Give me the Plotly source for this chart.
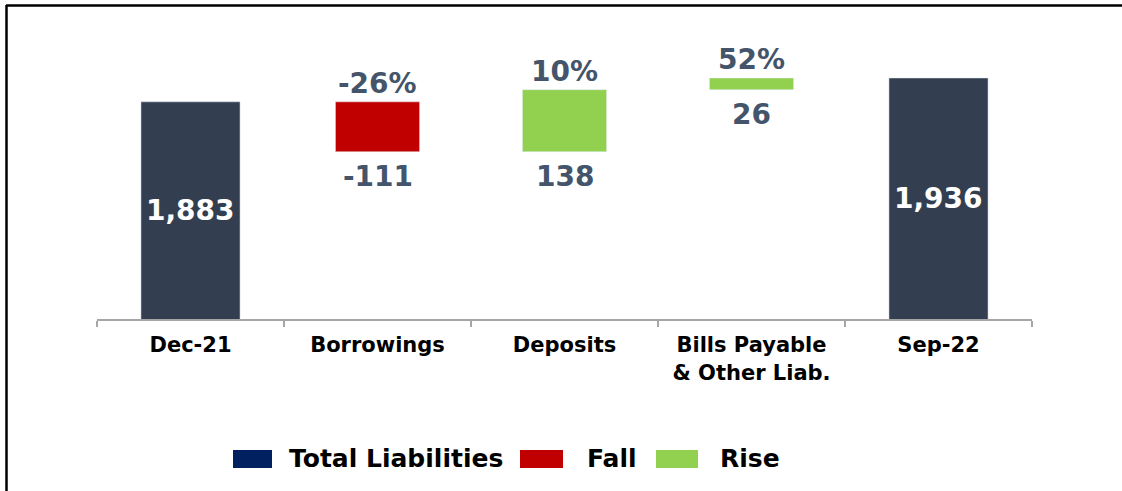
import plotly.graph_objects as go

categories = ["Dec-21", "Borrowings", "Deposits", "Bills Payable<br>& Other Liab.", "Sep-22"]
kinds = ["total", "change", "change", "change", "total"]
values = [1883, -111, 138, 26, 1936]
pct_labels = ["", "-26%", "10%", "52%", ""]
value_labels = ["1,883", "-111", "138", "26", "1,936"]

legend_names = ["Total Liabilities", "Fall", "Rise"]

NAVY_BAR = "#333F50"
NAVY_LEG = "#002060"
RED = "#C00000"
GREEN = "#92D050"
LABEL = "#44546A"
FONT = "DejaVu Sans, sans-serif"

Y_RANGE = [1400, 2065]

# waterfall bases
bases, tops, bottoms = [], [], []
running = 0
for k, v in zip(kinds, values):
    if k == "total":
        bases.append(0)
        running = v
        tops.append(v)
        bottoms.append(Y_RANGE[0])
    else:
        bases.append(running)
        tops.append(max(running, running + v))
        bottoms.append(min(running, running + v))
        running += v

fig = go.Figure()

tot_x = [c for c, k in zip(categories, kinds) if k == "total"]
tot_y = [v for v, k in zip(values, kinds) if k == "total"]
fig.add_trace(go.Bar(x=tot_x, y=tot_y, base=0, marker_color=NAVY_BAR,
                     width=0.53, showlegend=False, name="Total Liabilities"))

fall_x = [c for c, k, v in zip(categories, kinds, values) if k == "change" and v < 0]
fall_y = [v for k, v in zip(kinds, values) if k == "change" and v < 0]
fall_b = [b for b, k, v in zip(bases, kinds, values) if k == "change" and v < 0]
fig.add_trace(go.Bar(x=fall_x, y=fall_y, base=fall_b, marker_color=RED,
                     width=0.45, showlegend=False, name="Fall"))

rise_x = [c for c, k, v in zip(categories, kinds, values) if k == "change" and v >= 0]
rise_y = [v for k, v in zip(kinds, values) if k == "change" and v >= 0]
rise_b = [b for b, k, v in zip(bases, kinds, values) if k == "change" and v >= 0]
fig.add_trace(go.Bar(x=rise_x, y=rise_y, base=rise_b, marker_color=GREEN,
                     width=0.45, showlegend=False, name="Rise"))

# data labels
for c, k, t, b, pl, vl in zip(categories, kinds, tops, bottoms, pct_labels, value_labels):
    if k == "total":
        fig.add_annotation(x=c, y=(t + b) / 2, text="<b>%s</b>" % vl, showarrow=False,
                           font=dict(family=FONT, size=28, color="white"))
    else:
        fig.add_annotation(x=c, y=t, text="<b>%s</b>" % pl, showarrow=False, yanchor="bottom",
                           yshift=0, font=dict(family=FONT, size=28, color=LABEL))
        fig.add_annotation(x=c, y=b, text="<b>%s</b>" % vl, showarrow=False, yanchor="top",
                           yshift=-6, font=dict(family=FONT, size=28, color=LABEL))

# plot area: x 97..1032, y 20..319 px
L, R, T, B = 97, 90, 20, 172
W, H = 1122, 491
pw, ph = W - L - R, H - T - B


def px_x(p):
    return (p - L) / pw


def px_y(p):
    return (H - B - p) / ph


# frame lines (top and left)
fig.add_shape(type="line", xref="paper", yref="paper", x0=px_x(6), x1=px_x(1122),
              y0=px_y(5.5), y1=px_y(5.5), line=dict(color="black", width=2.5))
fig.add_shape(type="line", xref="paper", yref="paper", x0=px_x(6.5), x1=px_x(6.5),
              y0=px_y(5), y1=px_y(491), line=dict(color="black", width=2.5))

# legend drawn by hand
leg_colors = [NAVY_LEG, RED, GREEN]
leg_boxes = [(233, 272), (520, 563), (656, 698)]
leg_text_x = [287, 585, 718]
for name, col, (x0, x1), tx in zip(legend_names, leg_colors, leg_boxes, leg_text_x):
    fig.add_shape(type="rect", xref="paper", yref="paper", x0=px_x(x0), x1=px_x(x1),
                  y0=px_y(468), y1=px_y(450), fillcolor=col, line=dict(width=0))
    fig.add_annotation(xref="paper", yref="paper", x=px_x(tx), y=px_y(458), text="<b>%s</b>" % name,
                       showarrow=False, xanchor="left", yanchor="middle",
                       font=dict(family=FONT, size=25, color="black"))

fig.update_layout(
    width=W, height=H,
    margin=dict(l=L, r=R, t=T, b=B),
    paper_bgcolor="white", plot_bgcolor="white",
    barmode="overlay",
    showlegend=False,
    font=dict(family=FONT),
)
fig.update_xaxes(
    categoryorder="array", categoryarray=categories,
    showline=True, linecolor="#A6A6A6", linewidth=2,
    ticks="outside", tickson="boundaries", ticklen=6, tickcolor="#A6A6A6", tickwidth=2,
    tickfont=dict(family=FONT, size=21, color="black"),
    tickprefix="<b>", ticksuffix="</b>", ticklabelstandoff=6,
    showgrid=False,
)
fig.update_yaxes(visible=False, range=Y_RANGE, showgrid=False, zeroline=False)

fig.write_html("out.html", config={"displayModeBar": False},
               post_script="document.body.style.margin='0';")
